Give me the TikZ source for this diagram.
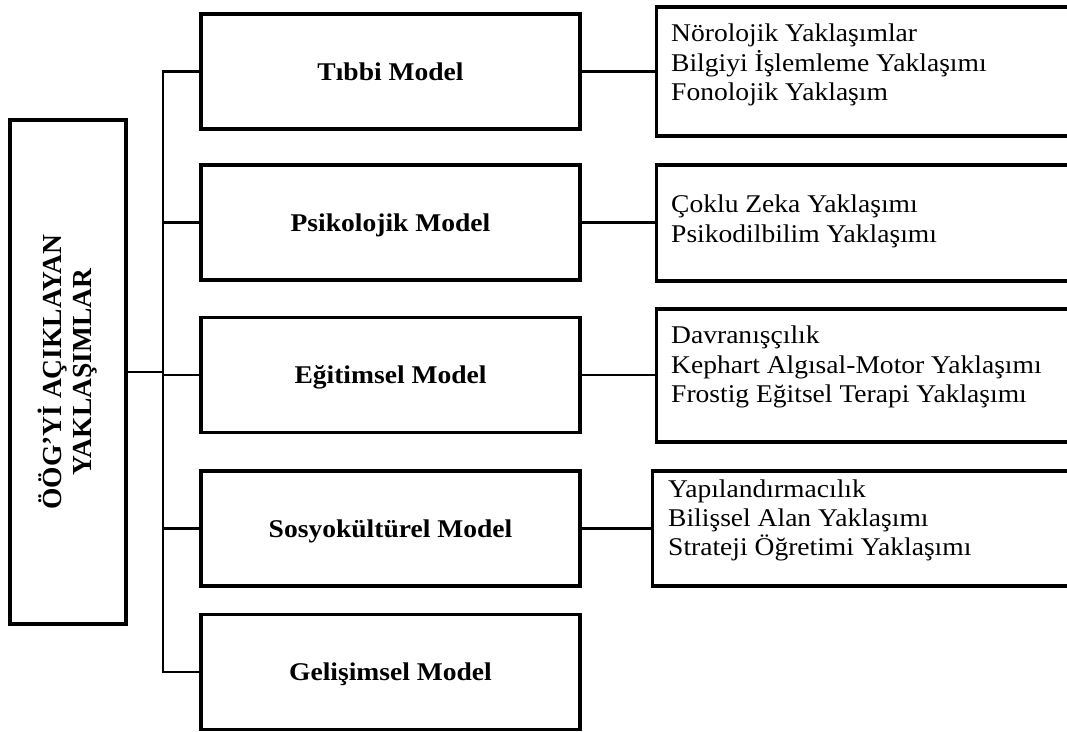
\documentclass[tikz,border=0pt]{standalone}
\usepackage{fontspec}
\setmainfont{Liberation Serif}
\newfontfamily\widefont[FakeStretch=1.08]{Liberation Serif}
\begin{document}
\begin{tikzpicture}[x=1pt,y=-1pt,
  box/.style={draw=black,line width=3.2pt,fill=white,inner sep=0pt,rectangle},
  modelbox/.style={box,minimum width=379pt,minimum height=115pt},
  listbox/.style={box,minimum width=440pt},
  modeltext/.style={inner sep=0pt,anchor=base,font=\widefont\fontsize{25.5}{30}\selectfont\bfseries},
  itemtext/.style={inner sep=0pt,anchor=base west,font=\widefont\fontsize{25.5}{30}\selectfont},
  link/.style={draw=black,line width=2.2pt}]
\clip (0,0) rectangle (1067,731);
\fill[white] (0,0) rectangle (1067,731);

% root box with rotated title
\node[box,rotate=90,minimum width=504pt,minimum height=116pt,align=center,
      font=\fontsize{27.5}{30}\selectfont\bfseries] (root) at (68,372)
      {ÖÖG’Yİ AÇIKLAYAN\\YAKLAŞIMLAR};

% model boxes
\node[modelbox] (m1) at (390.5,71.5) {};
\node[modelbox] (m2) at (390.5,222.5) {};
\node[modelbox] (m3) at (390.5,375) {};
\node[modelbox] (m4) at (390.5,528.5) {};
\node[modelbox] (m5) at (390.5,672) {};
\node[modeltext] (m1t) at (390.5,80) {Tıbbi Model};
\node[modeltext] (m2t) at (390.5,231) {Psikolojik Model};
\node[modeltext] (m3t) at (390.5,383.5) {Eğitimsel Model};
\node[modeltext] (m4t) at (390.5,537) {Sosyokültürel Model};
\node[modeltext] (m5t) at (390.5,680.5) {Gelişimsel Model};

% approach lists
\node[listbox,minimum height=129pt,anchor=west] (r1) at (655,71.5) {};
\node[listbox,minimum height=116pt,anchor=west] (r2) at (655,223) {};
\node[listbox,minimum height=133pt,anchor=west] (r3) at (655,375.5) {};
\node[listbox,minimum height=115pt,anchor=west] (r4) at (651,528.5) {};

\node[itemtext] (r1a) at (671,41) {Nörolojik Yaklaşımlar};
\node[itemtext] (r1b) at (671,71) {Bilgiyi İşlemleme Yaklaşımı};
\node[itemtext] (r1c) at (671,100) {Fonolojik Yaklaşım};
\node[itemtext] (r2a) at (671,212) {Çoklu Zeka Yaklaşımı};
\node[itemtext] (r2b) at (671,242) {Psikodilbilim Yaklaşımı};
\node[itemtext] (r3a) at (671,343) {Davranışçılık};
\node[itemtext] (r3b) at (671,373) {Kephart Algısal-Motor Yaklaşımı};
\node[itemtext] (r3c) at (671,402) {Frostig Eğitsel Terapi Yaklaşımı};
\node[itemtext] (r4a) at (668,497) {Yapılandırmacılık};
\node[itemtext] (r4b) at (668,526) {Bilişsel Alan Yaklaşımı};
\node[itemtext] (r4c) at (668,555) {Strateji Öğretimi Yaklaşımı};

% tree connectors
\coordinate (trunkTop) at (163,71);
\coordinate (trunkBot) at (163,672);
\draw[link] (root.south |- 0,372) -- (163,372);
\draw[link,line cap=rect] (trunkTop) -- (trunkBot);
\foreach \m in {m1,m2,m3,m4,m5}
  \draw[link] (163,0 |- \m.west) -- (\m.west);
\foreach \m/\r in {m1/r1,m2/r2,m3/r3,m4/r4}
  \draw[link] (\m.east) -- (\r.west |- \m.east);
\end{tikzpicture}
\end{document}
